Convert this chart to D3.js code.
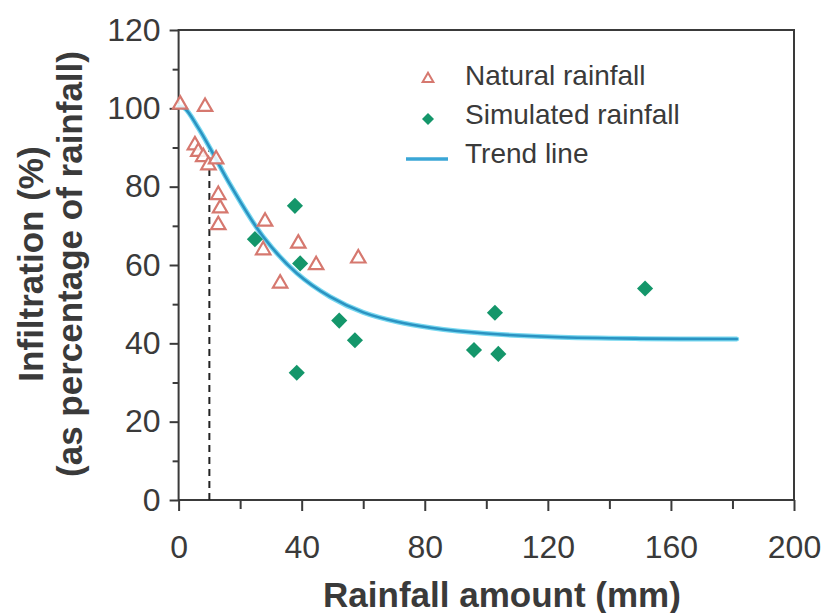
<!DOCTYPE html>
<html>
<head>
<meta charset="utf-8">
<script src="https://cdn.jsdelivr.net/npm/d3@7"></script>
<style>
  html, body { margin: 0; padding: 0; background: #fff; }
  svg { display: block; font-family: "Liberation Sans", Arial, sans-serif; }
</style>
</head>
<body>
<svg id="chart" width="830" height="613"></svg>
<script>
// ── data ──
const naturalX = [0.5, 8.6, 5.3, 6.4, 8, 9.7, 12.2, 12.9, 13.5, 12.9, 28.1, 27.5, 38.9, 33, 44.7, 58.4];
const naturalY = [101, 100.4, 90.6, 88.9, 87.6, 85.5, 87, 77.9, 74.5, 70.2, 71.1, 63.8, 65.5, 55.3, 60, 61.7];

const simX = [24.8, 37.8, 39.5, 38.4, 52.2, 57.3, 96, 102.8, 103.9, 151.6];
const simY = [66.6, 75.1, 60.4, 32.5, 45.8, 40.8, 38.3, 47.8, 37.3, 54];

const trendX = [0, 2, 6.4, 10.8, 17, 27.5, 38.4, 49.2, 60, 71, 82, 100, 122, 150, 181.4];
const trendY = [100.5, 100, 95, 89, 80.2, 67.2, 57.9, 51.9, 47.9, 45.5, 44, 42.5, 41.6, 41.2, 41.1];

const thresholdX = 10;       // dashed marker
const thresholdTop = 89.4;

const xTicks = [0, 20, 40, 60, 80, 100, 120, 140, 160, 180, 200];
const yTicks = [0, 10, 20, 30, 40, 50, 60, 70, 80, 90, 100, 110, 120];

const legendItems = ['Natural rainfall', 'Simulated rainfall', 'Trend line'];

// ── layout ──
const svg = d3.select('#chart');
const x = d3.scaleLinear().domain([0, 200]).range([178.6, 794]);
const y = d3.scaleLinear().domain([0, 120]).range([500, 30]);

const AXIS = '#3a3a3a';
const TRI = '#d6786f';
const DIA = '#14966a';
const LINE = '#2b93c2';

// frame
svg.append('rect')
  .attr('x', x(0)).attr('y', y(120))
  .attr('width', x(200) - x(0)).attr('height', y(0) - y(120))
  .attr('fill', 'none').attr('stroke', AXIS).attr('stroke-width', 2);

// x axis
const gx = svg.append('g')
  .attr('transform', `translate(0,${y(0)})`)
  .call(d3.axisBottom(x).tickValues(xTicks).tickSizeOuter(0).tickSize(11)
    .tickFormat(d => d % 40 === 0 ? d : ''));
gx.select('.domain').remove();
gx.selectAll('line').attr('stroke', AXIS).attr('stroke-width', 2)
  .attr('y2', d => d % 40 === 0 ? 11 : 9);
gx.selectAll('text').attr('y', 35).attr('dy', '0.71em')
  .attr('font-size', 32).attr('fill', AXIS).attr('font-family', 'Liberation Sans, Arial');

// y axis
const gy = svg.append('g')
  .attr('transform', `translate(${x(0)},0)`)
  .call(d3.axisLeft(y).tickValues(yTicks).tickSizeOuter(0).tickSize(9)
    .tickFormat(d => d % 20 === 0 ? d : ''));
gy.select('.domain').remove();
gy.selectAll('line').attr('stroke', AXIS).attr('stroke-width', 2)
  .attr('x2', d => d % 20 === 0 ? -9 : -6);
gy.selectAll('text').attr('x', -18)
  .attr('font-size', 32).attr('fill', AXIS).attr('font-family', 'Liberation Sans, Arial');

// axis titles
svg.append('text')
  .attr('x', 502).attr('y', 607)
  .attr('text-anchor', 'middle').attr('font-weight', 'bold').attr('font-size', 35)
  .attr('fill', AXIS).text('Rainfall amount (mm)');

const ymid = 264;
svg.append('text')
  .attr('transform', `translate(43,${ymid}) rotate(-90)`)
  .attr('text-anchor', 'middle').attr('font-weight', 'bold').attr('font-size', 35)
  .attr('fill', AXIS).text('Infiltration (%)');
svg.append('text')
  .attr('transform', `translate(82,${ymid}) rotate(-90)`)
  .attr('text-anchor', 'middle').attr('font-weight', 'bold').attr('font-size', 35)
  .attr('fill', AXIS).text('(as percentage of rainfall)');

// dashed threshold
svg.append('line')
  .attr('x1', x(thresholdX)).attr('x2', x(thresholdX))
  .attr('y1', y(0)).attr('y2', y(thresholdTop))
  .attr('stroke', '#222').attr('stroke-width', 2).attr('stroke-dasharray', '7,5');

// trend line
const trend = trendX.map((v, i) => [v, trendY[i]]);
const lineGen = d3.line().x(d => x(d[0])).y(d => y(d[1])).curve(d3.curveCatmullRom.alpha(0.5));
svg.append('path').datum(trend)
  .attr('d', lineGen).attr('fill', 'none')
  .attr('stroke', '#78d8f0').attr('stroke-width', 5).attr('stroke-linecap', 'round');
svg.append('path').datum(trend)
  .attr('d', lineGen).attr('fill', 'none')
  .attr('stroke', LINE).attr('stroke-width', 2.6).attr('stroke-linecap', 'round');

// markers
const triSym = d3.symbol().type(d3.symbolTriangle).size(90);
const diaSym = d3.symbol().type(d3.symbolSquare).size(130);

svg.append('g').selectAll('path')
  .data(naturalX.map((v, i) => [v, naturalY[i]]))
  .join('path')
  .attr('d', triSym)
  .attr('transform', d => `translate(${x(d[0])},${y(d[1])})`)
  .attr('fill', '#fff').attr('fill-opacity', 0.85)
  .attr('stroke', TRI).attr('stroke-width', 2.2);

svg.append('g').selectAll('path')
  .data(simX.map((v, i) => [v, simY[i]]))
  .join('path')
  .attr('d', diaSym)
  .attr('transform', d => `translate(${x(d[0])},${y(d[1])}) rotate(45)`)
  .attr('fill', DIA);

// legend
const leg = svg.append('g');
const legY = [75, 114, 153];
leg.append('path')
  .attr('d', d3.symbol().type(d3.symbolTriangle).size(50))
  .attr('transform', `translate(428,${legY[0] + 4})`)
  .attr('fill', '#fff').attr('stroke', TRI).attr('stroke-width', 2);
leg.append('path')
  .attr('d', d3.symbol().type(d3.symbolSquare).size(72))
  .attr('transform', `translate(428,${legY[1] + 5}) rotate(45)`)
  .attr('fill', DIA);
leg.append('line')
  .attr('x1', 406).attr('x2', 448).attr('y1', legY[2] + 6).attr('y2', legY[2] + 6)
  .attr('stroke', '#3aa6d6').attr('stroke-width', 3.5);
leg.selectAll('text')
  .data(legendItems)
  .join('text')
  .attr('x', 465).attr('y', (d, i) => legY[i] + 10)
  .attr('font-size', 28).attr('fill', AXIS)
  .text(d => d);
</script>
</body>
</html>
